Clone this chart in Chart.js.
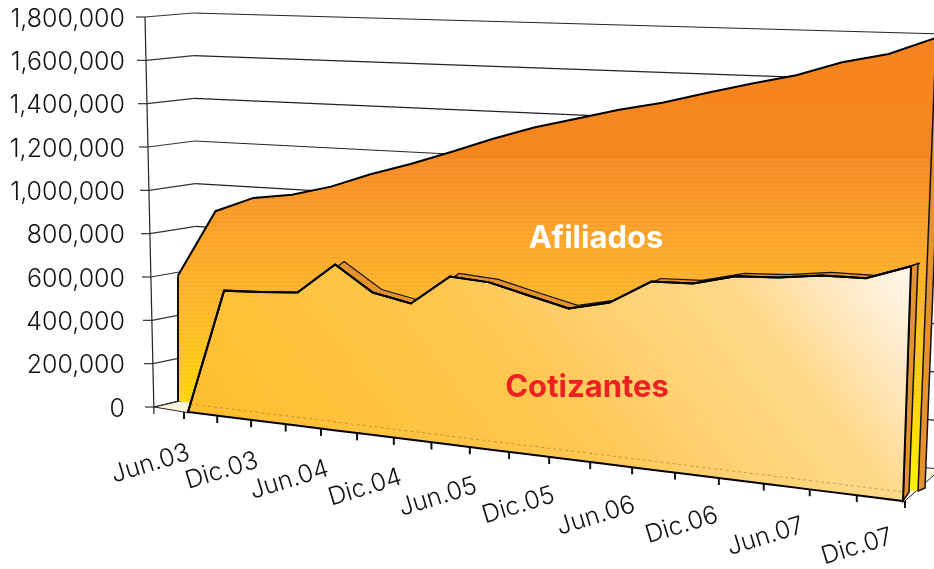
<!DOCTYPE html>
<html>
<head>
<meta charset="utf-8">
<title>Afiliados y Cotizantes</title>
<script src="https://cdn.jsdelivr.net/npm/chart.js@4"></script>
<style>
    body { margin: 0; background: #fff; }
    canvas { display: block; }
</style>
</head>
<body>
<canvas id="chart" width="934" height="569"></canvas>
<script>
// Trimestres, Jun.03 a Dic.07
const quarters = ['Jun.03', 'Sep.03', 'Dic.03', 'Mar.04', 'Jun.04', 'Sep.04', 'Dic.04', 'Mar.05', 'Jun.05',
    'Sep.05', 'Dic.05', 'Mar.06', 'Jun.06', 'Sep.06', 'Dic.06', 'Mar.07', 'Jun.07', 'Sep.07', 'Dic.07'];
const shownLabels = ['Jun.03', 'Dic.03', 'Jun.04', 'Dic.04', 'Jun.05', 'Dic.05', 'Jun.06', 'Dic.06', 'Jun.07', 'Dic.07'];
const afiliados = [579000, 888000, 960000, 985000, 1032000, 1097000, 1151000, 1212000, 1276000, 1333000,
    1377000, 1421000, 1456000, 1502000, 1545000, 1584000, 1640000, 1677000, 1743000];
const cotizantes = [0, 550000, 556000, 566000, 696000, 590000, 557000, 678000, 665000, 624000,
    585000, 619000, 710000, 713000, 749000, 754000, 771000, 770000, 821000];

const FONT = 'Inter, "DejaVu Sans", sans-serif';

// perspective of the 3D box: each series sits on its own slanted plane
const PLANES = {
    afiliados: { x0: 178, x1: 918, y0: 401, y1: 491, g0: 1.0, g1: 1.2, l0: 0, l1: 0.04 },
    cotizantes: { x0: 188, x1: 903, y0: 412, y1: 501, g0: 1.042, g1: 1.319, l0: 0, l1: 0.034 }
};

function depth(u, r) {
    const t = u / (quarters.length - 1);
    return t / (r - (r - 1) * t);
}

function project(plane, u, height) {
    const p = depth(u, 1.114);
    const h = height * (plane.g0 + (plane.g1 - plane.g0) * p);
    const lean = plane.l0 + (plane.l1 - plane.l0) * p;
    return {
        x: plane.x0 + (plane.x1 - plane.x0) * p + h * lean,
        y: plane.y0 + (plane.y1 - plane.y0) * p - h
    };
}

function polygon(ctx, pts, fill, stroke, width) {
    ctx.beginPath();
    pts.forEach((pt, i) => i ? ctx.lineTo(pt.x, pt.y) : ctx.moveTo(pt.x, pt.y));
    ctx.closePath();
    if (fill) { ctx.fillStyle = fill; ctx.fill(); }
    if (stroke) { ctx.strokeStyle = stroke; ctx.lineWidth = width; ctx.stroke(); }
}

function segment(ctx, x0, y0, x1, y1, color, width) {
    ctx.beginPath();
    ctx.moveTo(x0, y0);
    ctx.lineTo(x1, y1);
    ctx.strokeStyle = color;
    ctx.lineWidth = width;
    ctx.stroke();
}

function afiliadosFill(ctx) {
    const g = ctx.createLinearGradient(0, 40, 0, 491);
    g.addColorStop(0, '#F5831F');
    g.addColorStop(0.26, '#F6871F');
    g.addColorStop(0.45, '#FBA424');
    g.addColorStop(0.6, '#FEB726');
    g.addColorStop(0.8, '#FFD400');
    g.addColorStop(1, '#FFF200');
    return g;
}

function cotizantesFill(ctx) {
    const g = ctx.createLinearGradient(411, 650, 911, 267);
    g.addColorStop(0, '#FFBF30');
    g.addColorStop(0.4, '#FFC750');
    g.addColorStop(0.56, '#FFD070');
    g.addColorStop(0.76, '#FFD98A');
    g.addColorStop(0.875, '#FFE7C0');
    g.addColorStop(1, '#FFF8EE');
    return g;
}

const box3d = {
    id: 'box3d',
    // move the scale positions of every point onto its slanted plane
    afterDatasetsUpdate(chart) {
        const yScale = chart.scales.y;
        const zero = yScale.getPixelForValue(0);
        chart.data.datasets.forEach((ds, i) => {
            chart.getDatasetMeta(i).data.forEach((pt, u) => {
                const q = project(ds.plane, u, zero - pt.y);
                pt.x = q.x;
                pt.y = q.y;
            });
        });
    },
    beforeDatasetsDraw(chart) {
        const ctx = chart.ctx;
        const yScale = chart.scales.y;
        // floor
        polygon(ctx, [{ x: 154, y: 407 }, { x: 198, y: 397 }, { x: 934, y: 470 }, { x: 934, y: 475 }, { x: 905, y: 501 }],
            '#FBF5DC', null);
        segment(ctx, 154, 407, 190, 413, '#222', 1);
        segment(ctx, 154, 407, 178, 401, '#222', 1);
        segment(ctx, 905, 501, 934, 475, '#222', 1);
        // walls and value axis
        yScale.ticks.forEach(tick => {
            const y = yScale.getPixelForValue(tick.value);
            const k = (y - 17) / 390;
            const ax = 145 + 9 * k;
            const by = y - 4 - 6 * k;
            const bx = 193 + 5 * k;
            segment(ctx, ax - 9, y, ax, y, '#333', 1.2);
            segment(ctx, ax, y, bx, by, '#333', 1.2);
            segment(ctx, bx, by, 934, by + (934 - bx) * (0.028 + 0.00018 * (by - 13)), '#222', 1.2);
        });
        segment(ctx, 145, 17, 154, 414, '#222', 1.2);
        // category ticks along the front edge
        quarters.forEach((q, u) => {
            const p = depth(u, 1.218);
            const x = 184 + 721 * p;
            const y = 412 + 89 * p;
            segment(ctx, x, y, x, y + 7, '#111', 2);
        });
    },
    beforeDatasetDraw(chart, args) {
        const ctx = chart.ctx;
        const ds = chart.data.datasets[args.index];
        const top = args.meta.data;
        const base = top.map((pt, u) => project(ds.plane, u, 0));
        const last = top.length - 1;
        ctx.save();
        if (ds.plane === PLANES.afiliados) {
            polygon(ctx, top.concat(base.slice().reverse()), afiliadosFill(ctx), null);
            // fine light banding of the gradient
            ctx.save();
            ctx.clip();
            for (let y = 160; y < 410; y += 4) segment(ctx, 170, y, 934, y, 'rgba(255,255,255,0.16)', 1);
            ctx.restore();
            polygon(ctx, [top[last], base[last], { x: base[last].x + 7, y: base[last].y - 3 }, { x: top[last].x + 7, y: top[last].y - 3 }],
                '#E4912E', '#111', 1.5);
            segment(ctx, top[0].x, top[0].y, base[0].x, base[0].y, '#111', 2);
        } else {
            // top ribbon and end face, offset backwards from the front plane
            const ribbon = top.slice(3);
            const back = ribbon.map(pt => ({ x: pt.x + 9, y: pt.y - 3 }));
            polygon(ctx, ribbon.concat(back.slice().reverse()), '#E4912E', '#111', 1.2);
            polygon(ctx, [top[last], base[last], { x: base[last].x + 6, y: base[last].y - 9 }, { x: top[last].x + 7, y: top[last].y - 3 }],
                '#E4912E', '#111', 1.5);
            polygon(ctx, top.concat(base.slice().reverse()), cotizantesFill(ctx), '#000', 2);
            // faint edge of the floor showing through the front face
            ctx.setLineDash([3, 3]);
            segment(ctx, 190, 404, 903, 492, 'rgba(120,90,40,0.45)', 1);
            ctx.setLineDash([]);
        }
        ctx.restore();
    },
    afterDraw(chart) {
        const ctx = chart.ctx;
        ctx.save();
        // category labels, slanted along the front edge
        ctx.font = '300 25px ' + FONT;
        ctx.fillStyle = '#111';
        ctx.textAlign = 'right';
        ctx.textBaseline = 'middle';
        shownLabels.forEach((label, i) => {
            const p = depth(quarters.indexOf(label), 1.218);
            ctx.save();
            ctx.translate(184 + 721 * p + 5 - 18 * p + 36 * p * (1 - p), 412 + 89 * p + 40 - 5 * p);
            ctx.rotate(-17 * Math.PI / 180);
            ctx.fillText(label, 0, 0);
            ctx.restore();
        });
        // series names
        ctx.textAlign = 'center';
        ctx.font = 'bold 31px ' + FONT;
        ctx.fillStyle = '#FFFFFF';
        ctx.fillText(chart.data.datasets[0].label, 596, 239);
        ctx.fillStyle = '#ED2024';
        ctx.fillText(chart.data.datasets[1].label, 587, 388);
        ctx.restore();
    }
};

new Chart(document.getElementById('chart'), {
    type: 'line',
    data: {
        labels: quarters,
        datasets: [
            { label: 'Afiliados', data: afiliados, plane: PLANES.afiliados, order: 2, borderColor: '#000', borderWidth: 2, pointRadius: 0, clip: false },
            { label: 'Cotizantes', data: cotizantes, plane: PLANES.cotizantes, order: 1, borderColor: '#000', borderWidth: 2, pointRadius: 0, clip: false }
        ]
    },
    plugins: [box3d],
    options: {
        responsive: false,
        animation: false,
        layout: { padding: { top: 17, bottom: 162 } },
        plugins: { legend: { display: false }, tooltip: { enabled: false } },
        scales: {
            x: { display: false },
            y: {
                min: 0,
                max: 1800000,
                afterFit: scale => {
                    scale.width = 145;
                    scale.paddingTop = 0;
                    scale.paddingBottom = 0;
                },
                grid: { display: false },
                border: { display: false },
                ticks: {
                    stepSize: 200000,
                    padding: 12,
                    labelOffset: 2,
                    color: '#111',
                    font: { size: 25, family: FONT, weight: '300' },
                    callback: value => value.toLocaleString('en-US')
                }
            }
        }
    }
});
</script>
</body>
</html>
